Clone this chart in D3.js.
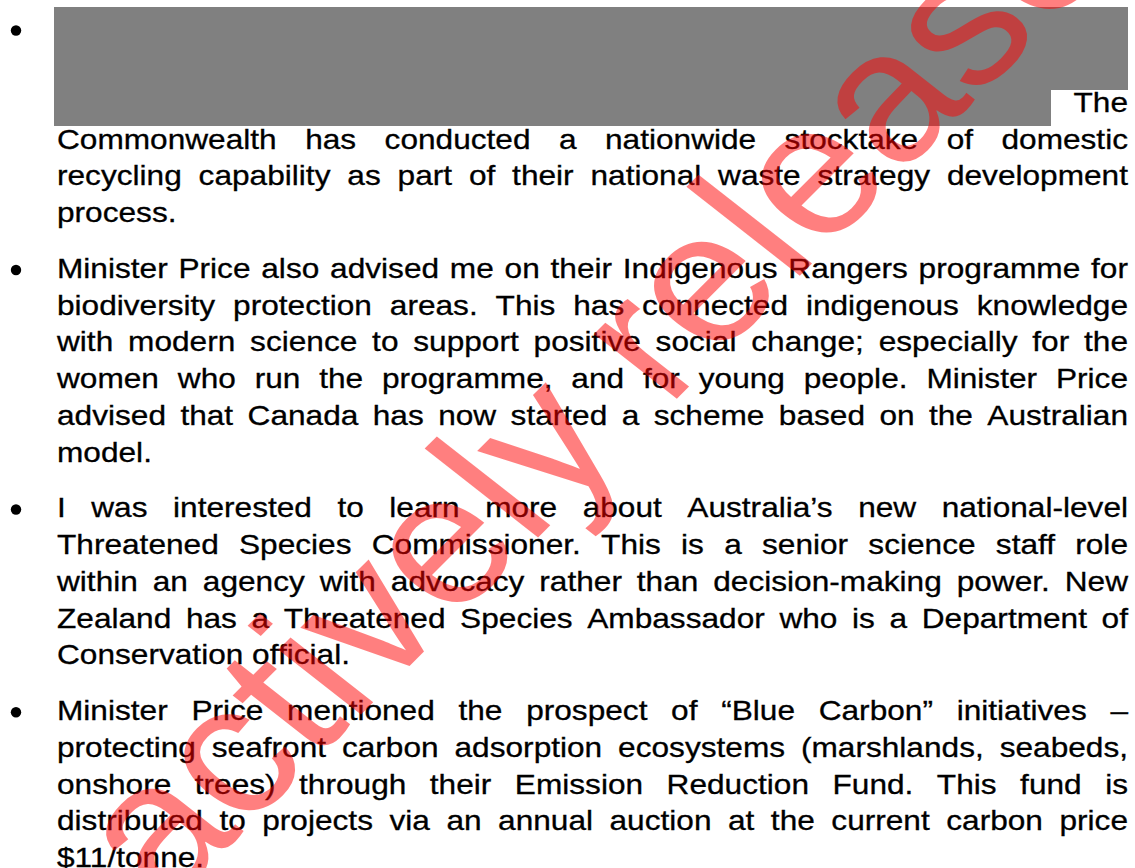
<!DOCTYPE html>
<html lang="en">
<head>
<meta charset="utf-8">
<title>released page</title>
<script src="https://d3js.org/d3.v7.min.js"></script>
<style>
  html, body { margin: 0; padding: 0; background: #fff; }
  #page text { font-family: "Liberation Sans", Arial, sans-serif; }
</style>
</head>
<body>
<svg id="page" width="1135" height="868"></svg>
<script>
// paragraph lines as they break in the page; first line of para 1 is redacted
const para1 = [
  '',
  '',
  'The',
  'Commonwealth has conducted a nationwide stocktake of domestic',
  'recycling capability as part of their national waste strategy development',
  'process.'
]
const para2 = [
  'Minister Price also advised me on their Indigenous Rangers programme for',
  'biodiversity protection areas. This has connected indigenous knowledge',
  'with modern science to support positive social change; especially for the',
  'women who run the programme, and for young people. Minister Price',
  'advised that Canada has now started a scheme based on the Australian',
  'model.'
]
const para3 = [
  'I was interested to learn more about Australia\u2019s new national-level',
  'Threatened Species Commissioner. This is a senior science staff role',
  'within an agency with advocacy rather than decision-making power. New',
  'Zealand has a Threatened Species Ambassador who is a Department of',
  'Conservation official.'
]
const para4 = [
  'Minister Price mentioned the prospect of \u201cBlue Carbon\u201d initiatives \u2013',
  'protecting seafront carbon adsorption ecosystems (marshlands, seabeds,',
  'onshore trees) through their Emission Reduction Fund. This fund is',
  'distributed to projects via an annual auction at the current carbon price',
  '$11/tonne.'
]
const paragraphs = [para1, para2, para3, para4]
const watermark = 'actively released'

const svg = d3.select('#page')
const W = 1135, H = 868
const left = 57, right = 1128
const sx = 1.13          // the scanned page is a little wider than it is tall
const fontSize = 28
const lineH = 36.75
const paraGap = 19

// running line count -> baseline y
const y = d3.scaleLinear().domain([0, 1]).range([38.5, 38.5 + lineH])

svg.append('rect').attr('width', W).attr('height', H).attr('fill', '#fff')

// redaction block
svg.append('path')
  .attr('d', 'M54,7H1128V90H1051V126H54Z')
  .attr('fill', '#808080')

const bullets = svg.append('g').attr('class', 'bullets')
const body = svg.append('g').attr('class', 'body')
  .attr('transform', `translate(${left},0) scale(${sx},1)`)
const span = (right - left) / sx

let idx = 0, gap = 0
paragraphs.forEach(lines => {
  bullets.append('circle')
    .attr('cx', 16).attr('cy', y(idx) + gap - 8).attr('r', 5.2)
    .attr('fill', '#000')
  lines.forEach((line, i) => {
    const by = y(idx + i) + gap
    if (!line) return
    const words = line.split(' ')
    const last = i === lines.length - 1
    if (words.length === 1 && !last) {
      // lone word closing a justified line -> flush right
      body.append('text').attr('x', span).attr('y', by)
        .attr('text-anchor', 'end').attr('font-size', fontSize)
        .attr('fill', '#000').attr('stroke', '#000').attr('stroke-width', 0.3)
        .text(line)
      return
    }
    const nodes = words.map(w => body.append('text')
      .attr('y', by).attr('font-size', fontSize)
      .attr('fill', '#000').attr('stroke', '#000').attr('stroke-width', 0.3)
      .text(w))
    const widths = nodes.map(n => n.node().getComputedTextLength())
    const total = d3.sum(widths)
    const space = last ? fontSize * 0.278
      : (span - total) / (words.length - 1)
    let x = 0
    nodes.forEach((n, k) => { n.attr('x', x); x += widths[k] + space })
  })
  idx += lines.length
  gap += paraGap
})

// watermark (stretched with the page)
svg.append('g')
  .attr('transform', `scale(${sx},1)`)
  .append('text')
  .attr('transform', 'translate(147.7,908.6) rotate(-48.5)')
  .attr('font-size', 185)
  .attr('fill', '#ff0000')
  .attr('fill-opacity', 0.5)
  .text(watermark)
</script>
</body>
</html>
